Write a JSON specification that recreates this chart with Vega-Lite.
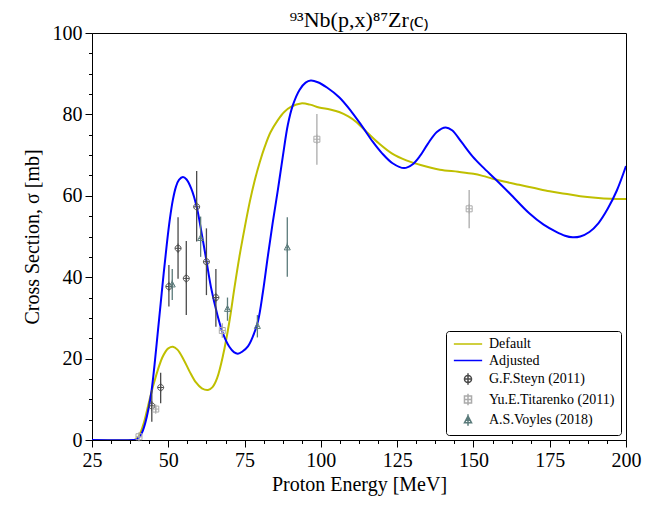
{
  "$schema": "https://vega.github.io/schema/vega-lite/v6.json",
  "width": 534,
  "height": 407,
  "autosize": "none",
  "padding": {"left": 92, "top": 33, "right": 44, "bottom": 66},
  "background": "white",
  "title": {"text": "⁹³Nb(p,x)⁸⁷Zr₍c₎", "font": "Liberation Serif", "fontSize": 22, "fontWeight": "normal", "color": "black", "offset": 7, "dy": 16},
  "config": {
    "view": {"stroke": "black", "strokeWidth": 1},
    "axis": {"domainColor": "black", "tickColor": "black", "labelColor": "black", "titleColor": "black", "labelFont": "Liberation Serif", "titleFont": "Liberation Serif", "labelFontSize": 20, "titleFontSize": 20, "titleFontWeight": "normal", "grid": false, "labelOverlap": false, "labelFlush": false},
    "legend": {"orient": "bottom-right", "offset": 5, "strokeColor": "black", "fillColor": "white", "padding": 6, "cornerRadius": 3, "labelFont": "Liberation Serif", "labelFontSize": 14, "labelColor": "black", "symbolSize": 50, "symbolStrokeWidth": 1.5, "rowPadding": 2.5, "labelLimit": 300, "symbolOffset": 9, "labelOffset": 14}
  },
  "datasets": {
    "curves": [
      {"E": 25, "sigma": 0, "series": "Default"},
      {"E": 38, "sigma": 0, "series": "Default"},
      {"E": 39, "sigma": 0.1, "series": "Default"},
      {"E": 40, "sigma": 0.6, "series": "Default"},
      {"E": 41, "sigma": 2, "series": "Default"},
      {"E": 42, "sigma": 4.2, "series": "Default"},
      {"E": 43, "sigma": 7.2, "series": "Default"},
      {"E": 44, "sigma": 10.3, "series": "Default"},
      {"E": 45, "sigma": 13.2, "series": "Default"},
      {"E": 46, "sigma": 15.8, "series": "Default"},
      {"E": 47, "sigma": 18.2, "series": "Default"},
      {"E": 48, "sigma": 20.2, "series": "Default"},
      {"E": 49, "sigma": 21.6, "series": "Default"},
      {"E": 50, "sigma": 22.5, "series": "Default"},
      {"E": 51.5, "sigma": 22.9, "series": "Default"},
      {"E": 53, "sigma": 22.2, "series": "Default"},
      {"E": 55, "sigma": 19.8, "series": "Default"},
      {"E": 57, "sigma": 16.8, "series": "Default"},
      {"E": 59, "sigma": 14.2, "series": "Default"},
      {"E": 61, "sigma": 12.7, "series": "Default"},
      {"E": 63, "sigma": 12.3, "series": "Default"},
      {"E": 64.5, "sigma": 13, "series": "Default"},
      {"E": 66, "sigma": 15.2, "series": "Default"},
      {"E": 68, "sigma": 21, "series": "Default"},
      {"E": 70, "sigma": 29, "series": "Default"},
      {"E": 71.7, "sigma": 37.5, "series": "Default"},
      {"E": 73.3, "sigma": 45, "series": "Default"},
      {"E": 75, "sigma": 52, "series": "Default"},
      {"E": 76.7, "sigma": 58.5, "series": "Default"},
      {"E": 78.3, "sigma": 63.7, "series": "Default"},
      {"E": 80, "sigma": 68.3, "series": "Default"},
      {"E": 81.6, "sigma": 72, "series": "Default"},
      {"E": 83.5, "sigma": 75.6, "series": "Default"},
      {"E": 85.9, "sigma": 78.6, "series": "Default"},
      {"E": 88, "sigma": 80.6, "series": "Default"},
      {"E": 90.3, "sigma": 81.9, "series": "Default"},
      {"E": 93.5, "sigma": 82.7, "series": "Default"},
      {"E": 96.5, "sigma": 82.4, "series": "Default"},
      {"E": 99.4, "sigma": 81.7, "series": "Default"},
      {"E": 103, "sigma": 81.2, "series": "Default"},
      {"E": 106, "sigma": 80.6, "series": "Default"},
      {"E": 109, "sigma": 79.5, "series": "Default"},
      {"E": 111.5, "sigma": 78.2, "series": "Default"},
      {"E": 115, "sigma": 75.7, "series": "Default"},
      {"E": 119, "sigma": 72.9, "series": "Default"},
      {"E": 123.5, "sigma": 70.3, "series": "Default"},
      {"E": 128, "sigma": 68.7, "series": "Default"},
      {"E": 133, "sigma": 67.5, "series": "Default"},
      {"E": 139, "sigma": 66.4, "series": "Default"},
      {"E": 145, "sigma": 65.9, "series": "Default"},
      {"E": 150, "sigma": 65.4, "series": "Default"},
      {"E": 153, "sigma": 64.9, "series": "Default"},
      {"E": 156.3, "sigma": 64.2, "series": "Default"},
      {"E": 160, "sigma": 63.5, "series": "Default"},
      {"E": 165, "sigma": 62.7, "series": "Default"},
      {"E": 170, "sigma": 61.9, "series": "Default"},
      {"E": 175, "sigma": 61.1, "series": "Default"},
      {"E": 180, "sigma": 60.5, "series": "Default"},
      {"E": 185, "sigma": 59.9, "series": "Default"},
      {"E": 190, "sigma": 59.5, "series": "Default"},
      {"E": 195, "sigma": 59.25, "series": "Default"},
      {"E": 200, "sigma": 59.2, "series": "Default"},
      {"E": 25, "sigma": 0, "series": "Adjusted"},
      {"E": 38.5, "sigma": 0, "series": "Adjusted"},
      {"E": 39.5, "sigma": 0.1, "series": "Adjusted"},
      {"E": 40.5, "sigma": 0.7, "series": "Adjusted"},
      {"E": 41.5, "sigma": 2, "series": "Adjusted"},
      {"E": 42.5, "sigma": 4.3, "series": "Adjusted"},
      {"E": 43.5, "sigma": 7.6, "series": "Adjusted"},
      {"E": 44.5, "sigma": 12, "series": "Adjusted"},
      {"E": 45.5, "sigma": 18.5, "series": "Adjusted"},
      {"E": 46.5, "sigma": 26, "series": "Adjusted"},
      {"E": 47.5, "sigma": 33.5, "series": "Adjusted"},
      {"E": 48.5, "sigma": 41, "series": "Adjusted"},
      {"E": 49.5, "sigma": 48, "series": "Adjusted"},
      {"E": 50.5, "sigma": 54.2, "series": "Adjusted"},
      {"E": 51.5, "sigma": 59, "series": "Adjusted"},
      {"E": 52.5, "sigma": 62.2, "series": "Adjusted"},
      {"E": 53.5, "sigma": 63.9, "series": "Adjusted"},
      {"E": 54.8, "sigma": 64.6, "series": "Adjusted"},
      {"E": 56, "sigma": 64, "series": "Adjusted"},
      {"E": 57.5, "sigma": 61.8, "series": "Adjusted"},
      {"E": 59.3, "sigma": 57.3, "series": "Adjusted"},
      {"E": 61, "sigma": 50.5, "series": "Adjusted"},
      {"E": 62.4, "sigma": 44.5, "series": "Adjusted"},
      {"E": 64, "sigma": 37.5, "series": "Adjusted"},
      {"E": 66, "sigma": 31, "series": "Adjusted"},
      {"E": 68, "sigma": 26, "series": "Adjusted"},
      {"E": 70, "sigma": 22.9, "series": "Adjusted"},
      {"E": 71.5, "sigma": 21.6, "series": "Adjusted"},
      {"E": 72.8, "sigma": 21.2, "series": "Adjusted"},
      {"E": 74.4, "sigma": 21.8, "series": "Adjusted"},
      {"E": 76.1, "sigma": 23, "series": "Adjusted"},
      {"E": 77.7, "sigma": 25.4, "series": "Adjusted"},
      {"E": 79.4, "sigma": 29.2, "series": "Adjusted"},
      {"E": 81, "sigma": 36.3, "series": "Adjusted"},
      {"E": 82.6, "sigma": 45, "series": "Adjusted"},
      {"E": 84.2, "sigma": 53.3, "series": "Adjusted"},
      {"E": 85.9, "sigma": 61.4, "series": "Adjusted"},
      {"E": 87.5, "sigma": 69.5, "series": "Adjusted"},
      {"E": 89.2, "sigma": 77.5, "series": "Adjusted"},
      {"E": 90.8, "sigma": 82.2, "series": "Adjusted"},
      {"E": 93, "sigma": 86, "series": "Adjusted"},
      {"E": 95, "sigma": 87.8, "series": "Adjusted"},
      {"E": 96.7, "sigma": 88.3, "series": "Adjusted"},
      {"E": 99, "sigma": 87.9, "series": "Adjusted"},
      {"E": 102, "sigma": 86.6, "series": "Adjusted"},
      {"E": 106, "sigma": 84.2, "series": "Adjusted"},
      {"E": 110, "sigma": 80.7, "series": "Adjusted"},
      {"E": 113.6, "sigma": 77, "series": "Adjusted"},
      {"E": 117, "sigma": 73.3, "series": "Adjusted"},
      {"E": 120, "sigma": 70.5, "series": "Adjusted"},
      {"E": 123.5, "sigma": 68, "series": "Adjusted"},
      {"E": 127.3, "sigma": 66.8, "series": "Adjusted"},
      {"E": 130, "sigma": 67.7, "series": "Adjusted"},
      {"E": 132.5, "sigma": 69.8, "series": "Adjusted"},
      {"E": 135, "sigma": 72.7, "series": "Adjusted"},
      {"E": 138, "sigma": 75.7, "series": "Adjusted"},
      {"E": 140.9, "sigma": 76.8, "series": "Adjusted"},
      {"E": 143, "sigma": 76.1, "series": "Adjusted"},
      {"E": 146, "sigma": 73.3, "series": "Adjusted"},
      {"E": 149.7, "sigma": 69.7, "series": "Adjusted"},
      {"E": 153, "sigma": 67.1, "series": "Adjusted"},
      {"E": 157.3, "sigma": 64, "series": "Adjusted"},
      {"E": 162, "sigma": 60.5, "series": "Adjusted"},
      {"E": 168.3, "sigma": 55.7, "series": "Adjusted"},
      {"E": 173, "sigma": 52.9, "series": "Adjusted"},
      {"E": 177, "sigma": 51.2, "series": "Adjusted"},
      {"E": 180, "sigma": 50.2, "series": "Adjusted"},
      {"E": 182.5, "sigma": 49.8, "series": "Adjusted"},
      {"E": 185, "sigma": 50, "series": "Adjusted"},
      {"E": 188, "sigma": 51.1, "series": "Adjusted"},
      {"E": 191, "sigma": 53.3, "series": "Adjusted"},
      {"E": 194, "sigma": 56.8, "series": "Adjusted"},
      {"E": 197, "sigma": 61.3, "series": "Adjusted"},
      {"E": 200, "sigma": 67.3, "series": "Adjusted"}
    ],
    "exp": [
      {"E": 44.6, "sigma": 8.4, "lo": 4.5, "hi": 12.3, "series": "G.F.Steyn (2011)"},
      {"E": 47.5, "sigma": 12.9, "lo": 9.0, "hi": 16.5, "series": "G.F.Steyn (2011)"},
      {"E": 50.2, "sigma": 37.7, "lo": 32.8, "hi": 43.0, "series": "G.F.Steyn (2011)"},
      {"E": 53.2, "sigma": 47.1, "lo": 39.6, "hi": 54.7, "series": "G.F.Steyn (2011)"},
      {"E": 55.9, "sigma": 39.7, "lo": 30.7, "hi": 48.9, "series": "G.F.Steyn (2011)"},
      {"E": 59.3, "sigma": 57.3, "lo": 48.8, "hi": 66.1, "series": "G.F.Steyn (2011)"},
      {"E": 62.5, "sigma": 43.8, "lo": 35.6, "hi": 52.0, "series": "G.F.Steyn (2011)"},
      {"E": 65.6, "sigma": 35.0, "lo": 27.8, "hi": 42.0, "series": "G.F.Steyn (2011)"},
      {"E": 40.4, "sigma": 0.8, "lo": 0.4, "hi": 1.2, "series": "Yu.E.Titarenko (2011)"},
      {"E": 45.9, "sigma": 7.6, "lo": 6.9, "hi": 8.3, "series": "Yu.E.Titarenko (2011)"},
      {"E": 67.7, "sigma": 26.9, "lo": 25.1, "hi": 28.7, "series": "Yu.E.Titarenko (2011)"},
      {"E": 98.7, "sigma": 73.9, "lo": 67.6, "hi": 80.1, "series": "Yu.E.Titarenko (2011)"},
      {"E": 148.6, "sigma": 56.8, "lo": 52.0, "hi": 61.4, "series": "Yu.E.Titarenko (2011)"},
      {"E": 51.3, "sigma": 38.2, "lo": 34.4, "hi": 42.0, "series": "A.S.Voyles (2018)"},
      {"E": 60.6, "sigma": 49.6, "lo": 45.0, "hi": 54.9, "series": "A.S.Voyles (2018)"},
      {"E": 69.4, "sigma": 32.2, "lo": 29.3, "hi": 35.0, "series": "A.S.Voyles (2018)"},
      {"E": 79.2, "sigma": 28.0, "lo": 25.2, "hi": 30.7, "series": "A.S.Voyles (2018)"},
      {"E": 89.0, "sigma": 47.3, "lo": 40.1, "hi": 54.7, "series": "A.S.Voyles (2018)"}
    ]
  },
  "encoding": {
    "x": {"field": "E", "type": "quantitative", "scale": {"domain": [25, 200], "nice": false, "zero": false},
      "axis": {"title": "Proton Energy [MeV]", "values": [25, 31.25, 37.5, 43.75, 50, 56.25, 62.5, 68.75, 75, 81.25, 87.5, 93.75, 100, 106.25, 112.5, 118.75, 125, 131.25, 137.5, 143.75, 150, 156.25, 162.5, 168.75, 175, 181.25, 187.5, 193.75, 200],
        "labelExpr": "datum.value % 25 === 0 ? format(datum.value, 'd') : ''",
        "tickSize": {"condition": {"test": "datum.value % 25 === 0", "value": 7}, "value": 3.5},
        "labelPadding": 3, "titlePadding": 4}},
    "y": {"field": "sigma", "type": "quantitative", "scale": {"domain": [0, 100], "nice": false},
      "axis": {"title": "Cross Section, σ [mb]", "values": [0, 5, 10, 15, 20, 25, 30, 35, 40, 45, 50, 55, 60, 65, 70, 75, 80, 85, 90, 95, 100],
        "labelExpr": "datum.value % 20 === 0 ? format(datum.value, 'd') : ''",
        "tickSize": {"condition": {"test": "datum.value % 20 === 0", "value": 7}, "value": 3.5},
        "labelPadding": 3, "titlePadding": 10}},
    "color": {"field": "series", "type": "nominal", "title": null,
      "legend": {"labelFont": "Liberation Serif", "labelFontSize": 14},
      "scale": {"domain": ["Default", "Adjusted", "G.F.Steyn (2011)", "Yu.E.Titarenko (2011)", "A.S.Voyles (2018)"],
        "range": ["#bfbf00", "#0000ff", "#4a4a4a", "#ababab", "#5b7b7b"]}}
  },
  "layer": [
    {"data": {"name": "curves"}, "mark": {"type": "line", "interpolate": "catmull-rom", "strokeWidth": 2, "clip": true},
      "encoding": {"detail": {"field": "series"}}},
    {"data": {"name": "exp"}, "mark": {"type": "rule", "strokeWidth": 1.3},
      "encoding": {"y": {"field": "lo", "type": "quantitative"}, "y2": {"field": "hi"}}},
    {"data": {"name": "exp"}, "mark": {"type": "point", "filled": false, "size": 36, "strokeWidth": 1, "opacity": 1},
      "encoding": {"shape": {"field": "series", "type": "nominal", "title": null,
        "legend": {"labelFont": "Liberation Serif", "labelFontSize": 14},
        "scale": {"domain": ["Default", "Adjusted", "G.F.Steyn (2011)", "Yu.E.Titarenko (2011)", "A.S.Voyles (2018)"],
          "range": ["M-4,0L4,0", "M-4,0L4,0", "M-1,0A1,1,0,1,1,1,0A1,1,0,1,1,-1,0ZM-1,0L1,0M0,-1.6L0,1.6", "M-1,-1L1,-1L1,1L-1,1ZM-1,0L1,0M0,-1.6L0,1.6", "M0,-1.1L1,0.8L-1,0.8ZM-0.6,0.1L0.6,0.1M0,-1.6L0,1.6"]}}}}
  ]
}
